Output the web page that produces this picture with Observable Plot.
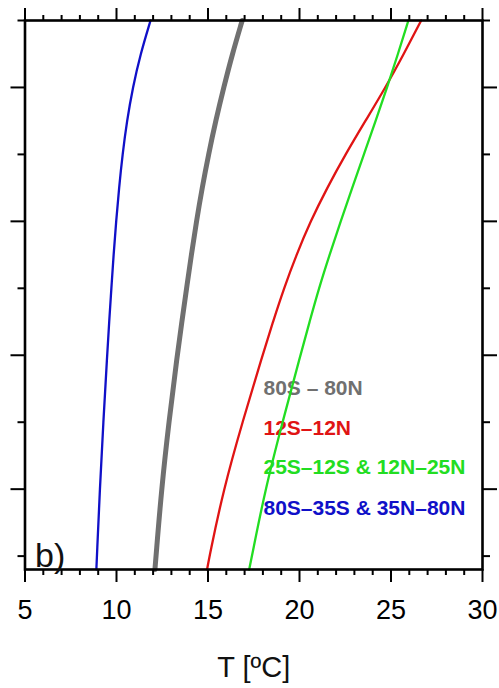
<!DOCTYPE html>
<html>
<head>
<meta charset="utf-8">
<script src="https://cdn.jsdelivr.net/npm/d3@7"></script>
<script src="https://cdn.jsdelivr.net/npm/@observablehq/plot@0.6"></script>
<style>
  html, body { margin: 0; padding: 0; background: #fff; }
  #chart { width: 499px; height: 688px; }
</style>
</head>
<body>
<div id="chart"></div>
<script>
// ---- data ----
const levels = [8, 7.5, 7, 6.5, 6, 5.5, 5, 4.5, 4, 3.5, 3, 2, 1, 0, -0.2];
const tGlobal      = [16.87, 16.33, 15.86, 15.42, 15.03, 14.68, 14.37, 14.09, 13.83, 13.57, 13.32, 12.86, 12.46, 12.16, 12.10];
const tTropics     = [26.65, 25.70, 24.70, 23.60, 22.51, 21.51, 20.60, 19.83, 19.15, 18.55, 17.98, 16.88, 15.85, 15.08, 14.95];
const tSubtropics  = [25.95, 25.38, 24.79, 24.16, 23.52, 22.88, 22.25, 21.64, 21.06, 20.55, 20.05, 19.07, 18.13, 17.40, 17.25];
const tExtratropics= [11.86, 11.31, 10.89, 10.57, 10.33, 10.14, 9.98, 9.84, 9.72, 9.60, 9.49, 9.28, 9.09, 8.93, 8.90];

const seriesNames  = ["80S – 80N", "12S–12N", "25S–12S & 12N–25N", "80S–35S & 35N–80N"];
const seriesColors = ["#707070", "#e01414", "#22dd22", "#1010c8"];
const seriesWidths = [5, 2.3, 2.3, 2.3];
const seriesValues = [tGlobal, tTropics, tSubtropics, tExtratropics];

const legendX = 18.03;
const legendLevels = [2.40, 1.806, 1.224, 0.612];

const xMajorTicks = [5, 10, 15, 20, 25, 30];
const xMinorTicks = d3.range(5, 31).filter(v => v % 5 !== 0);
const yLongTicks  = [1, 3, 5, 7];
const yShortTicks = [0, 2, 4, 6, 8];
const xLabel = "T [ºC]";
const panelLabel = "b)";

// ---- build table ----
const rows = [];
seriesNames.forEach((name, i) => {
  seriesValues[i].forEach((t, j) => rows.push({series: name, t, level: levels[j], idx: i}));
});
const legendRows = seriesNames.map((name, i) => ({name, color: seriesColors[i], level: legendLevels[i]}));

const font = "'Liberation Sans', Arial, Helvetica, sans-serif";
const noLabel = () => "";

const lineMarks = [3, 0, 1, 2].map(i =>
  Plot.line(rows.filter(r => r.idx === i), {
    x: "t", y: "level", stroke: seriesColors[i], strokeWidth: seriesWidths[i],
    curve: "basis"
  })
);

const chart = Plot.plot({
  width: 499,
  height: 688,
  marginLeft: 24.5,
  marginRight: 17,
  marginTop: 20,
  marginBottom: 119,
  style: {fontFamily: font, background: "#fff", color: "#000", overflow: "visible"},
  x: {domain: [5, 30]},
  y: {domain: [-0.2, 8]},
  marks: [
    Plot.text(legendRows, {
      x: () => legendX, y: "level", text: "name", fill: "color",
      textAnchor: "start", lineAnchor: "bottom", fontSize: 21, fontWeight: "bold", fontFamily: font
    }),
    ...lineMarks,
    Plot.frame({stroke: "#000", strokeWidth: 2.6}),
    Plot.axisX(xMajorTicks, {anchor: "bottom", tickSize: 13, tickPadding: 17.5, strokeWidth: 2,
      fontSize: 27, fontFamily: font, label: null}),
    Plot.axisX(xMinorTicks, {anchor: "bottom", tickSize: 6, strokeWidth: 2, tickFormat: noLabel, label: null}),
    Plot.axisX(xMajorTicks, {anchor: "top", tickSize: 13, strokeWidth: 2, tickFormat: noLabel, label: null}),
    Plot.axisX(xMinorTicks, {anchor: "top", tickSize: 6, strokeWidth: 2, tickFormat: noLabel, label: null}),
    Plot.axisY(yLongTicks, {anchor: "left", tickSize: 14, strokeWidth: 2, tickFormat: noLabel, label: null}),
    Plot.axisY(yShortTicks, {anchor: "left", tickSize: 7, strokeWidth: 2, tickFormat: noLabel, label: null}),
    Plot.axisY(yLongTicks, {anchor: "right", tickSize: 14, strokeWidth: 2, tickFormat: noLabel, label: null}),
    Plot.axisY(yShortTicks, {anchor: "right", tickSize: 7, strokeWidth: 2, tickFormat: noLabel, label: null}),
    Plot.text([xLabel], {frameAnchor: "bottom", dy: 107, lineAnchor: "bottom", fontSize: 29, fontFamily: font, fill: "#111"}),
    Plot.text([panelLabel], {frameAnchor: "bottom-left", dx: 10, dy: -3, textAnchor: "start", lineAnchor: "bottom",
      fontSize: 34, fontFamily: font, fill: "#111"})
  ]
});
document.getElementById("chart").appendChild(chart);
</script>
</body>
</html>
